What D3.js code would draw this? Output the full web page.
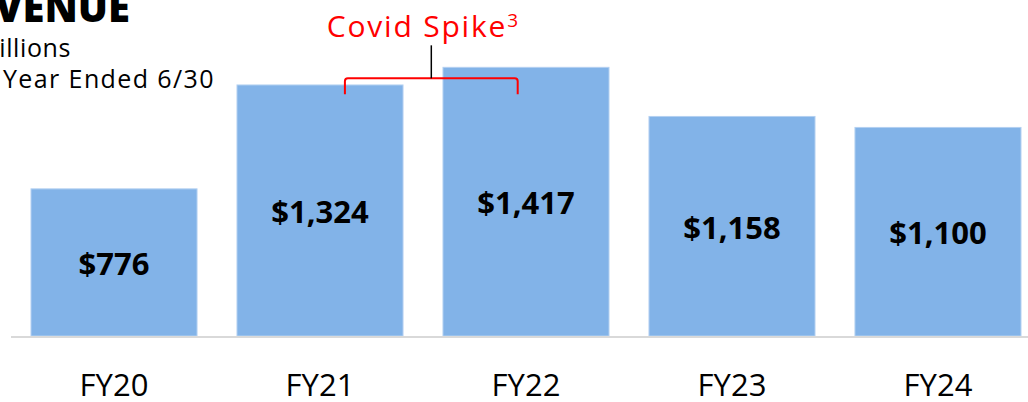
<!DOCTYPE html>
<html>
<head>
<meta charset="utf-8">
<script src="https://cdn.jsdelivr.net/npm/d3@7"></script>
<style>
  body { margin: 0; background: #fff; }
  svg { display: block; font-family: "Open Sans", sans-serif; }
</style>
</head>
<body>
<div id="chart"></div>
<script>
const years = ["FY20", "FY21", "FY22", "FY23", "FY24"];
const revenue = [776, 1324, 1417, 1158, 1100];
const valueLabels = ["$776", "$1,324", "$1,417", "$1,158", "$1,100"];
const spikeYears = ["FY21", "FY22"];

const width = 1028;
const height = 402;
const baseY = 336;

const svg = d3.select("#chart")
  .append("svg")
  .attr("width", width)
  .attr("height", height);

const x = d3.scaleBand()
  .domain(years)
  .range([31, 1021])
  .paddingInner(0.194)
  .paddingOuter(0);

// 1417 sits at ~67px
const y = d3.scaleLinear()
  .domain([0, 1500])
  .range([baseY, baseY - 1500 * 0.1896]);

const barColor = "#82b3e8";

svg.selectAll("rect.bar")
  .data(revenue)
  .join("rect")
  .attr("class", "bar")
  .attr("x", (d, i) => x(years[i]))
  .attr("y", d => y(d))
  .attr("width", x.bandwidth())
  .attr("height", d => y(0) - y(d))
  .attr("fill", barColor)
  .attr("stroke", "#b3d0f1")
  .attr("stroke-width", 1);

// baseline
svg.append("line")
  .attr("x1", 11)
  .attr("x2", width)
  .attr("y1", y(0) + 1)
  .attr("y2", y(0) + 1)
  .attr("stroke", "#d9d9d9")
  .attr("stroke-width", 2);

// value labels in the middle of each bar
svg.selectAll("text.val")
  .data(revenue)
  .join("text")
  .attr("class", "val")
  .attr("x", (d, i) => x(years[i]) + x.bandwidth() / 2)
  .attr("y", d => (y(d) + y(0)) / 2 + 4)
  .attr("text-anchor", "middle")
  .attr("dominant-baseline", "middle")
  .attr("font-size", 31)
  .attr("font-weight", 700)
  .attr("fill", "#000")
  .text((d, i) => valueLabels[i]);

// x axis labels
const xAxis = d3.axisBottom(x).tickSize(0).tickPadding(0);
const gx = svg.append("g")
  .attr("transform", `translate(0, ${baseY + 60})`)
  .call(xAxis);
gx.select(".domain").remove();
gx.selectAll("text")
  .attr("font-family", "Open Sans, sans-serif")
  .attr("font-size", 31)
  .attr("fill", "#000")
  .attr("dy", 0);

// title block, cut off on the left
const title = svg.append("g");
title.append("text")
  .attr("x", 130).attr("y", 22)
  .attr("text-anchor", "end")
  .attr("font-size", 40)
  .attr("font-weight", 800)
  .text("REVENUE");
title.append("text")
  .attr("x", 71).attr("y", 57)
  .attr("text-anchor", "end")
  .attr("font-size", 25)
  .attr("letter-spacing", 0.6)
  .text("$ in Millions");
title.append("text")
  .attr("x", 215).attr("y", 88)
  .attr("text-anchor", "end")
  .attr("font-size", 25)
  .attr("letter-spacing", 1.4)
  .text("Fiscal Year Ended 6/30");

// covid spike bracket
const bx1 = x(spikeYears[0]) + x.bandwidth() * 0.65;
const bx2 = x(spikeYears[1]) + x.bandwidth() * 0.45;
const bTop = y(1417) + 11;
const bBot = bTop + 16;
const bMid = (bx1 + bx2) / 2;

svg.append("path")
  .attr("d", `M${bx1},${bBot} L${bx1},${bTop + 3} Q${bx1},${bTop} ${bx1 + 3},${bTop} L${bx2 - 3},${bTop} Q${bx2},${bTop} ${bx2},${bTop + 3} L${bx2},${bBot}`)
  .attr("fill", "none")
  .attr("stroke", "#ff0000")
  .attr("stroke-width", 2);

svg.append("line")
  .attr("x1", bMid).attr("x2", bMid)
  .attr("y1", bTop - 33).attr("y2", bTop)
  .attr("stroke", "#000")
  .attr("stroke-width", 1.5);

const spike = svg.append("text")
  .attr("x", bMid - 8)
  .attr("y", 37)
  .attr("text-anchor", "middle")
  .attr("font-size", 30)
  .attr("letter-spacing", 1.8)
  .attr("fill", "#ff0000");
spike.append("tspan").text("Covid Spike");
spike.append("tspan")
  .attr("font-size", 19)
  .attr("dy", -10)
  .text("3");
</script>
</body>
</html>
